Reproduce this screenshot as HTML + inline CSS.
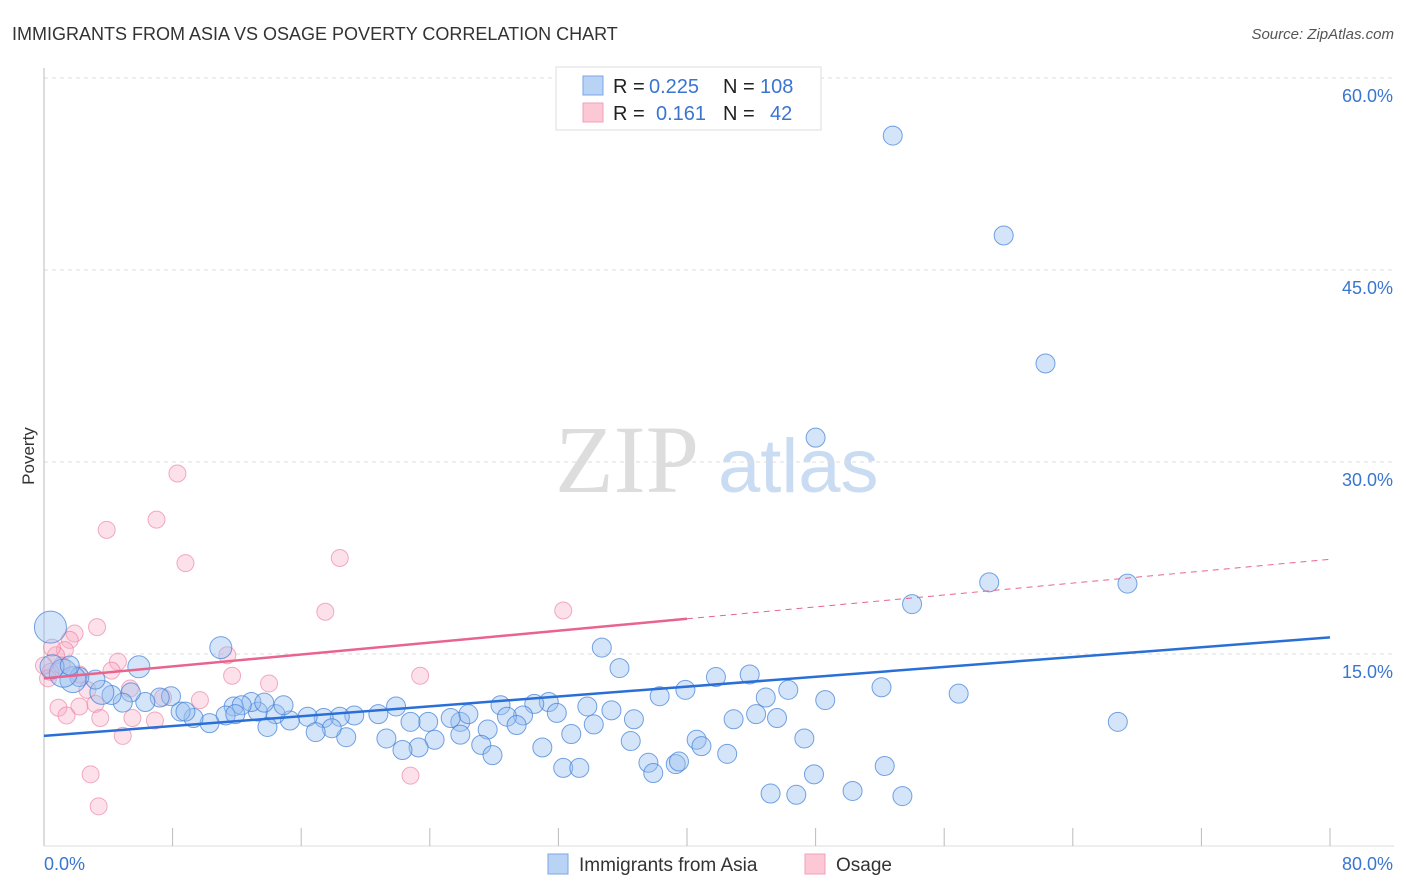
<!DOCTYPE html>
<html><head><meta charset="utf-8">
<style>
body{margin:0;background:#fff;font-family:"Liberation Sans",sans-serif;}
svg{display:block}
</style></head>
<body>
<svg id="chart" width="1406" height="892" xmlns="http://www.w3.org/2000/svg">
<text x="12" y="40" font-size="18" fill="#333">IMMIGRANTS FROM ASIA VS OSAGE POVERTY CORRELATION CHART</text>
<text x="1394" y="39" font-size="15" fill="#555" font-style="italic" text-anchor="end">Source: ZipAtlas.com</text>
<g>
<text x="555" y="492" font-size="96" fill="#ddd" font-family="Liberation Serif,serif">ZIP</text>
<text x="718" y="492" font-size="76" fill="#c9dcf2">atlas</text>
</g>
<g id="grid"></g>
<g id="axes"></g>
<g id="pts"></g>
<g id="lines"></g>
<text x="34" y="456" font-size="17" fill="#333" text-anchor="middle" transform="rotate(-90 34 456)">Poverty</text>
<g>
<rect x="556" y="67" width="265" height="63" fill="#fff" stroke="#ddd"/>
<rect x="583" y="76" width="20" height="19" fill="#b9d3f5" stroke="#7aa6e6"/>
<rect x="583" y="103" width="20" height="19" fill="#fcc8d6" stroke="#f0a0b8"/>
<text y="93" font-size="20"><tspan x="613" fill="#222">R = </tspan><tspan x="649" fill="#3a75d0">0.225</tspan><tspan x="723" fill="#222">N = </tspan><tspan x="760" fill="#3a75d0">108</tspan></text>
<text y="120" font-size="20"><tspan x="613" fill="#222">R = </tspan><tspan x="656" fill="#3a75d0">0.161</tspan><tspan x="723" fill="#222">N = </tspan><tspan x="770" fill="#3a75d0">42</tspan></text>
</g>
<g>
<rect x="548" y="854" width="20" height="20" fill="#b9d3f5" stroke="#7aa6e6"/>
<text x="579" y="871" font-size="19" fill="#333">Immigrants from Asia</text>
<rect x="805" y="854" width="20" height="20" fill="#fcc8d6" stroke="#f0a0b8"/>
<text x="836" y="871" font-size="19" fill="#333">Osage</text>
</g>
</svg>
<script>
const asiaX=[52.8,59.7,62.3,48.0,58.8,67.4,54.0,34.7,35.8,41.8,43.9,39.9,46.3,38.3,52.1,56.9,44.9,48.6,31.4,28.4,30.5,33.8,35.3,44.3,42.9,45.6,36.7,66.8,31.9,29.8,28.8,25.9,26.4,25.3,23.9,22.8,20.8,21.9,19.3,18.4,17.4,16.4,15.3,14.4,13.3,14.9,12.9,11.8,12.3,11.3,10.3,9.3,8.5,8.8,7.9,7.2,6.3,5.4,4.9,4.2,3.6,3.2,2.2,1.8,1.2,0.5,1.6,5.9,11.0,0.4,29.4,34.2,32.8,27.6,27.2,27.9,25.9,24.3,23.3,22.3,21.3,18.8,17.9,16.9,13.9,36.5,31.0,40.6,40.9,47.3,42.5,37.6,39.3,39.5,52.3,37.9,32.3,33.3,47.9,45.2,46.8,50.3,53.4,11.9,13.7];
const asiaY=[55.5,47.7,37.7,31.9,20.6,20.5,18.9,15.5,13.9,13.2,13.4,12.2,12.2,11.7,12.4,11.9,11.6,11.4,11.25,11.0,11.1,10.9,10.6,10.3,9.9,10.0,9.9,9.7,10.4,10.2,10.1,9.7,10.3,10.0,9.7,9.7,10.3,10.9,10.2,10.1,10.0,10.1,9.8,10.3,10.5,11.0,11.25,10.9,11.0,10.2,9.6,10.0,10.5,10.5,11.7,11.6,11.25,12.0,11.2,11.8,12.0,13.0,13.2,13.0,13.5,14.0,14.1,14.0,15.5,17.1,9.45,9.5,8.75,9.1,7.9,7.1,8.7,8.3,7.7,7.5,8.4,8.5,9.2,8.9,9.3,8.2,7.7,8.3,7.8,8.4,7.2,6.5,6.4,6.6,6.25,5.7,6.1,6.1,5.6,4.1,4.0,4.3,3.9,10.3,11.2];
const asiaBig=[[69,16],[64,14],[65,12],[63,13],[60,12],[67,11],[68,11]];
const osageX=[8.3,7.0,3.9,8.8,18.4,17.5,32.3,3.3,1.9,1.6,1.3,0.75,11.4,4.6,4.2,0.4,0.25,2.2,5.35,2.7,14.0,7.4,9.7,11.7,23.4,0.9,2.2,3.2,1.4,3.5,5.5,6.9,4.9,2.9,3.4,22.8,1.1,0.0,0.5];
const osageY=[29.1,25.5,24.7,22.1,22.5,18.3,18.4,17.1,16.6,16.1,15.3,14.9,14.9,14.4,13.7,13.6,13.1,13.4,12.3,12.2,12.7,11.6,11.4,13.3,13.3,10.8,10.9,11.1,10.2,10.0,10.0,9.8,8.6,5.6,3.1,5.5,14.1,14.1,15.5];
const asiaTrend=[8.6,16.3];
const osageTrend=[13.1,22.4];
const osageSolidEnd=40;
const yTicks=[15,30,45,60];
const xTickCount=10;

const X0=44,X1=1330,Y0=846,PPY=12.8;
const sx=v=>X0+(X1-X0)*v/80;
const sy=v=>Y0-v*PPY;
const NS='http://www.w3.org/2000/svg';
function mk(tag,attrs,parent){const e=document.createElementNS(NS,tag);for(const k in attrs)e.setAttribute(k,attrs[k]);parent.appendChild(e);return e;}
const grid=document.getElementById('grid'),axes=document.getElementById('axes'),pts=document.getElementById('pts'),lines=document.getElementById('lines');
yTicks.forEach(t=>{
 const l=mk('line',{x1:X0,x2:1394,y1:sy(t),y2:sy(t),stroke:'#ddd','stroke-dasharray':'4,4'},grid);
 
 
 const tx=mk('text',{x:1393,y:sy(t)+24,'font-size':18,fill:'#3a75d0','text-anchor':'end'},axes);
 tx.textContent=t.toFixed(1)+'%';
 
 
});
const topGrid=mk('line',{x1:X0,x2:1394,y1:78,y2:78,stroke:'#ddd','stroke-dasharray':'4,4'},grid);


const ya=mk('line',{x1:X0,x2:X0,y1:68,y2:Y0,stroke:'#bbb'},axes);


const xa=mk('line',{x1:X0,x2:1394,y1:Y0,y2:Y0,stroke:'#ddd'},axes);


for(let i=1;i<=xTickCount;i++){
 const v=80*i/xTickCount;
 const t=mk('line',{x1:sx(v),x2:sx(v),y1:828,y2:Y0,stroke:'#bbb'},axes);
 
 
}
const xl0=mk('text',{x:44,y:870,'font-size':18,fill:'#3a75d0'},axes);xl0.textContent='0.0%';


const xl1=mk('text',{x:1393,y:870,'font-size':18,fill:'#3a75d0','text-anchor':'end'},axes);xl1.textContent='80.0%';



const bigMap={};asiaBig.forEach(([i,r])=>bigMap[i]=r);
osageX.forEach((x,i)=>{
 const c=mk('circle',{cx:sx(x),cy:sy(osageY[i]),r:8.5,fill:'rgba(248,170,195,0.35)',stroke:'rgba(235,120,155,0.6)','stroke-width':1},pts);
 
 
});
asiaX.forEach((x,i)=>{
 const c=mk('circle',{cx:sx(x),cy:sy(asiaY[i]),r:bigMap[i]||9.5,fill:'rgba(150,190,240,0.4)',stroke:'rgba(60,125,215,0.7)','stroke-width':1},pts);
 
 
});
const bl=mk('line',{x1:sx(0),y1:sy(asiaTrend[0]),x2:sx(80),y2:sy(asiaTrend[1]),stroke:'#2a6fd6','stroke-width':2.5},lines);


const oMid=osageTrend[0]+(osageTrend[1]-osageTrend[0])*osageSolidEnd/80;
const pl=mk('line',{x1:sx(0),y1:sy(osageTrend[0]),x2:sx(osageSolidEnd),y2:sy(oMid),stroke:'#e8648f','stroke-width':2.5},lines);


const pd=mk('line',{x1:sx(osageSolidEnd),y1:sy(oMid),x2:sx(80),y2:sy(osageTrend[1]),stroke:'#e8648f','stroke-width':1,'stroke-dasharray':'6,5'},lines);


</script>
</body></html>
